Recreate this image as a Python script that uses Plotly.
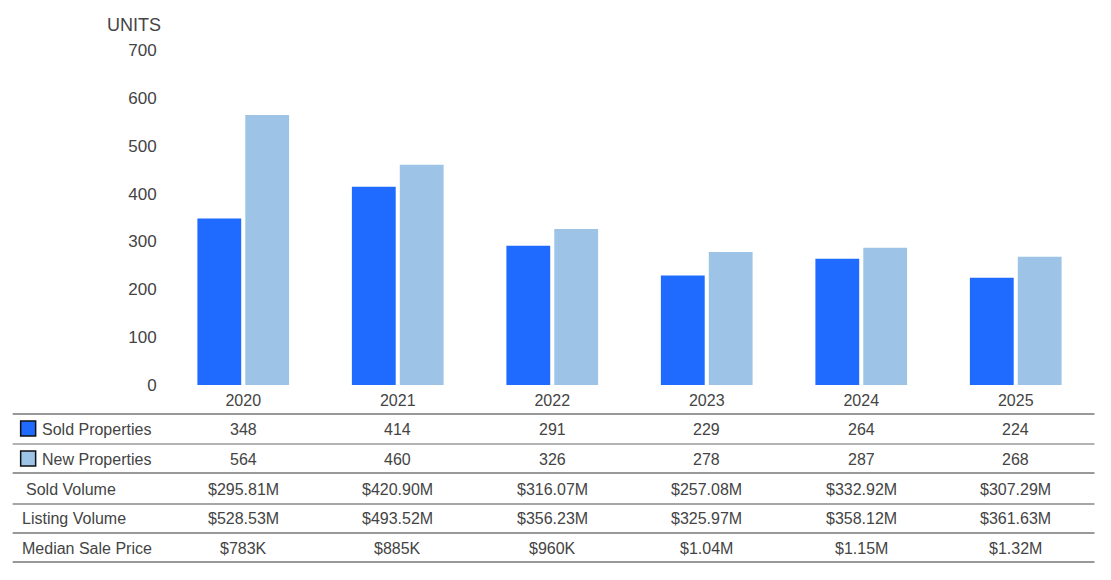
import plotly.graph_objects as go

years = ["2020", "2021", "2022", "2023", "2024", "2025"]
sold_properties = [348, 414, 291, 229, 264, 224]
new_properties = [564, 460, 326, 278, 287, 268]
sold_volume = ["$295.81M", "$420.90M", "$316.07M", "$257.08M", "$332.92M", "$307.29M"]
listing_volume = ["$528.53M", "$493.52M", "$356.23M", "$325.97M", "$358.12M", "$361.63M"]
median_sale_price = ["$783K", "$885K", "$960K", "$1.04M", "$1.15M", "$1.32M"]
y_ticks = [0, 100, 200, 300, 400, 500, 600, 700]

SOLD_COLOR = "#1F6BFF"
NEW_COLOR = "#9DC3E6"
TEXT_COLOR = "#444444"
FONT = "Liberation Sans, Arial, sans-serif"

OFF = 8  # default page body margin
W, H = 1111 - OFF, 580 - OFF
PLOT_LEFT, PLOT_RIGHT, PLOT_TOP, PLOT_BOTTOM = 165.5, 1093.5, 50, 385  # screen px
ML = PLOT_LEFT - OFF
MR = W - (PLOT_RIGHT - OFF)
MT = PLOT_TOP - OFF
MB = H - (PLOT_BOTTOM - OFF)
PH = PLOT_BOTTOM - PLOT_TOP
PW = PLOT_RIGHT - PLOT_LEFT


def py(pixel_y):
    """screen pixel row -> paper y"""
    return (PLOT_BOTTOM - pixel_y) / PH


def px(pixel_x):
    """screen pixel column -> paper x"""
    return (pixel_x - PLOT_LEFT) / PW


fig = go.Figure()
fig.add_trace(go.Bar(x=years, y=sold_properties, name="Sold Properties",
                     marker=dict(color=SOLD_COLOR, line=dict(width=0))))
fig.add_trace(go.Bar(x=years, y=new_properties, name="New Properties",
                     marker=dict(color=NEW_COLOR, line=dict(width=0))))

annotations = []
shapes = []

annotations.append(dict(text="UNITS", x=px(162), y=py(25), xref="paper", yref="paper",
                        xanchor="right", yanchor="middle", showarrow=False,
                        font=dict(size=18, color=TEXT_COLOR, family=FONT)))

rows = [
    ("Sold Properties", [str(v) for v in sold_properties], 429, 39, SOLD_COLOR),
    ("New Properties", [str(v) for v in new_properties], 459, 39, NEW_COLOR),
    ("Sold Volume", sold_volume, 489, 23, None),
    ("Listing Volume", listing_volume, 519, 19, None),
    ("Median Sale Price", median_sale_price, 548, 19, None),
]
for label, vals, yc, xlab, sq in rows:
    annotations.append(dict(text=label, x=px(xlab), y=py(yc), xref="paper", yref="paper",
                            xanchor="left", yanchor="middle", showarrow=False,
                            font=dict(size=16, color=TEXT_COLOR, family=FONT)))
    for i, v in enumerate(vals):
        annotations.append(dict(text=v, x=i, y=py(yc), xref="x", yref="paper",
                                xanchor="center", yanchor="middle", showarrow=False,
                                font=dict(size=16, color=TEXT_COLOR, family=FONT)))
    if sq:
        shapes.append(dict(type="rect", xref="paper", yref="paper",
                           x0=px(20), x1=px(35), y0=py(yc - 8), y1=py(yc + 7),
                           fillcolor=sq, line=dict(color="#111111", width=1.5)))

line_ys = [414, 444, 473, 504, 533, 562]
line_cols = ["#777777", "#9a9a9a", "#777777", "#888888", "#777777", "#777777"]
for ly, lc in zip(line_ys, line_cols):
    shapes.append(dict(type="line", xref="paper", yref="paper",
                       x0=px(12), x1=px(1095), y0=py(ly), y1=py(ly),
                       line=dict(color=lc, width=1.6)))

fig.update_layout(
    width=W, height=H,
    margin=dict(l=ML, r=MR, t=MT, b=MB, pad=0),
    paper_bgcolor="white", plot_bgcolor="white",
    barmode="group", bargap=0.38, bargroupgap=0.085,
    showlegend=False,
    font=dict(family=FONT, size=16, color=TEXT_COLOR),
    annotations=annotations, shapes=shapes,
    xaxis=dict(type="category", range=[-0.5, len(years) - 0.5], autorange=False,
               showgrid=False, zeroline=False, showline=False,
               ticks="outside", ticklen=1, tickcolor="rgba(0,0,0,0)",
               tickfont=dict(size=16, color=TEXT_COLOR, family=FONT)),
    yaxis=dict(range=[0, 700], tickvals=y_ticks, showgrid=False, zeroline=False,
               showline=False, ticks="outside", ticklen=5, tickcolor="rgba(0,0,0,0)",
               tickfont=dict(size=17, color=TEXT_COLOR, family=FONT)),
)

fig.write_html("out.html")
